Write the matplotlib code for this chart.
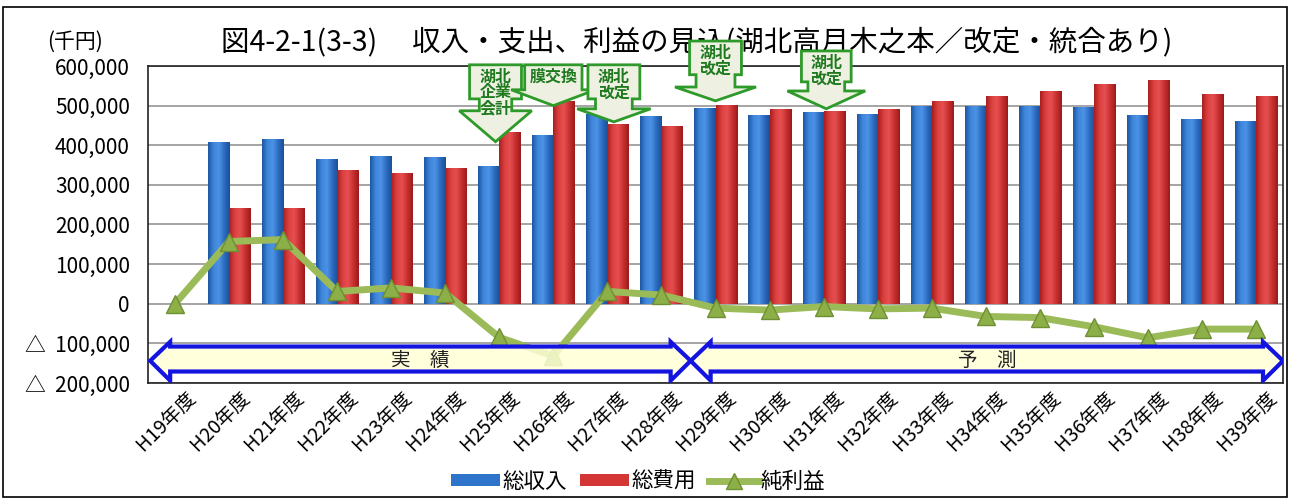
import numpy as np
import matplotlib.pyplot as plt
from matplotlib.patches import Polygon, Rectangle, Patch
from matplotlib.lines import Line2D
from matplotlib.colors import LinearSegmentedColormap
from matplotlib.ticker import FuncFormatter, MultipleLocator
from matplotlib.transforms import ScaledTranslation

plt.rcParams['font.family'] = ['Noto Sans CJK JP', 'DejaVu Sans']

# --- data (千円) ---
years = ['H19年度', 'H20年度', 'H21年度', 'H22年度', 'H23年度', 'H24年度', 'H25年度',
         'H26年度', 'H27年度', 'H28年度', 'H29年度', 'H30年度', 'H31年度', 'H32年度',
         'H33年度', 'H34年度', 'H35年度', 'H36年度', 'H37年度', 'H38年度', 'H39年度']
income = [np.nan, 407000, 414000, 364000, 373000, 370000, 346000, 425000, 478000, 473000,
          494000, 476000, 483000, 479000, 498000, 498000, 498000, 496000, 475000, 465000, 461000]
cost = [np.nan, 242000, 242000, 336000, 330000, 342000, 432000, 510000, 453000, 448000,
        500000, 490000, 485000, 490000, 511000, 523000, 536000, 553000, 563000, 528000, 524000]
profit = [0, 157000, 162000, 31000, 40000, 27000, -85000, -132000, 31000, 22000,
          -11000, -16000, -7000, -13000, -11000, -32000, -35000, -58000, -86000, -64000, -64000]

title = '図4-2-1(3-3)　 収入・支出、利益の見込(湖北高月木之本／改定・統合あり)'

# callouts: text, x centre, box half width, box top, box bottom, shaft bottom, shaft hw, head hw, tip
callouts = [
    ('湖北\n企業\n会計', 5.93, 0.48, 603000, 517000, 487000, 0.30, 0.67, 409000),
    ('膜交換', 7.00, 0.53, 603000, 540000, 540000, 0.53, 0.78, 500000),
    ('湖北\n改定', 8.12, 0.48, 603000, 517000, 492000, 0.34, 0.68, 459000),
    ('湖北\n改定', 10.0, 0.48, 663000, 578000, 547000, 0.36, 0.75, 512000),
    ('湖北\n改定', 12.05, 0.46, 638000, 560000, 537000, 0.34, 0.72, 492000),
]

# period bands: label, left tip, right tip
bands = [('実　績', -0.46, 9.54), ('予　測', 9.54, 20.5)]

W, H = 1290, 498
fig = plt.figure(figsize=(W / 100, H / 100), dpi=100)
ax = fig.add_axes([148 / W, 1 - 383 / H, (1283 - 148) / W, (383 - 66) / H])

blue_cm = LinearSegmentedColormap.from_list('b', ['#1C56A0', '#3F86DC', '#4C93E6', '#2C6CC0', '#1A4F95'])
red_cm = LinearSegmentedColormap.from_list('r', ['#A81E1E', '#DC4040', '#E65050', '#C83030', '#9C1A1A'])
grad = np.linspace(0, 1, 64).reshape(1, -1)


def gradient_bars(xs, vals, width, cmap):
    for xc, v in zip(xs, vals):
        if np.isnan(v):
            continue
        ax.imshow(grad, cmap=cmap, extent=(xc - width / 2, xc + width / 2, 0, v),
                  aspect='auto', interpolation='bicubic', zorder=3)


x = np.arange(len(years))
bw = 0.39
gradient_bars(x - bw / 2, income, bw, blue_cm)
gradient_bars(x + bw / 2, cost, bw, red_cm)
ax.plot(x, profit, color='#9BBB59', lw=5, zorder=4, solid_capstyle='round')
ax.plot(x, profit, ls='none', marker='^', ms=13, mfc='#8CB047', mec='#6F8F33', mew=1, zorder=5)

ax.set_xlim(-0.5, len(years) - 0.5)
ax.set_ylim(-200000, 600000)
ax.yaxis.set_major_locator(MultipleLocator(100000))


def yfmt(v, pos):
    if v == 0:
        return '0'
    if v < 0:
        return '△  {:,.0f}'.format(-v)
    return '{:,.0f}'.format(v)


ax.yaxis.set_major_formatter(FuncFormatter(yfmt))
ax.grid(axis='y', color='#8C8C8C', lw=1.1, zorder=0)
ax.set_axisbelow(True)
ax.tick_params(axis='y', length=0, pad=13, labelsize=15)
ax.tick_params(axis='x', length=0, pad=3, labelsize=14)
ax.set_xticks(x)
ax.set_xticklabels(years, rotation=45, ha='right', rotation_mode='anchor')
shift = ScaledTranslation(10 / 100, 0, fig.dpi_scale_trans)
for lab in ax.get_xticklabels():
    lab.set_transform(lab.get_transform() + shift)
for sp in ax.spines.values():
    sp.set_color('#222222')
    sp.set_linewidth(1.2)

# period bands (double arrows)
L = 0.37
yb1, yb2, yh1, yh2, ym = -108000, -171000, -96000, -194000, -144000
for label, xa, xb in bands:
    pts = [(xa, ym), (xa + L, yh1), (xa + L, yb1), (xb - L, yb1), (xb - L, yh1), (xb, ym),
           (xb - L, yh2), (xb - L, yb2), (xa + L, yb2), (xa + L, yh2)]
    ax.add_patch(Polygon(pts, closed=True, facecolor='#FFFFD6', alpha=0.85,
                         edgecolor='none', zorder=6))
    ax.add_patch(Polygon(pts, closed=True, facecolor='none', edgecolor='#1414E0',
                         lw=3, joinstyle='miter', zorder=7))
    ax.text((xa + xb) / 2, ym, label, ha='center', va='center', fontsize=14,
            color='#222222', zorder=8)

# down-arrow callouts
for i, (txt, xc, bh, top, bot, sb, sh, hh, tip) in enumerate(callouts):
    pts = [(xc - bh, top), (xc + bh, top), (xc + bh, bot), (xc + sh, bot), (xc + sh, sb),
           (xc + hh, sb), (xc, tip), (xc - hh, sb), (xc - sh, sb), (xc - sh, bot), (xc - bh, bot)]
    ax.add_patch(Polygon(pts, closed=True, facecolor='#EEF1E2', edgecolor='#2E9A2A',
                         lw=2, joinstyle='miter', clip_on=False, zorder=10 + i))
    ax.text(xc, top - 9000, txt, ha='center', va='top', fontsize=11.5, fontweight='bold',
            color='#1F7A1F', linespacing=1.0, clip_on=False, zorder=10 + i)

# title sits underneath the callouts, as in the original sheet
fig.text(697 / W, 1 - 42 / H, title, ha='center', va='center', fontsize=20.5, zorder=-1)
fig.text(75 / W, 1 - 42 / H, '(千円)', ha='center', va='center', fontsize=15)

handles = [Patch(facecolor='#2F74CB'), Patch(facecolor='#D43535'),
           Line2D([], [], color='#9BBB59', lw=5, marker='^', ms=11,
                  mfc='#8CB047', mec='#6F8F33')]
fig.legend(handles, ['総収入', '総費用', '純利益'], loc='center', ncol=3,
           bbox_to_anchor=(638 / W, 1 - 482 / H), frameon=False, fontsize=15.5,
           handlelength=2.3, handleheight=0.5, handletextpad=0.1, columnspacing=0.6)

fig.patches.append(Rectangle((3 / W, 1 / H), (1287 - 3) / W, (490 / H), transform=fig.transFigure,
                             fill=False, edgecolor='black', lw=1.2))

fig.savefig('out.png', dpi=100, facecolor='white')
